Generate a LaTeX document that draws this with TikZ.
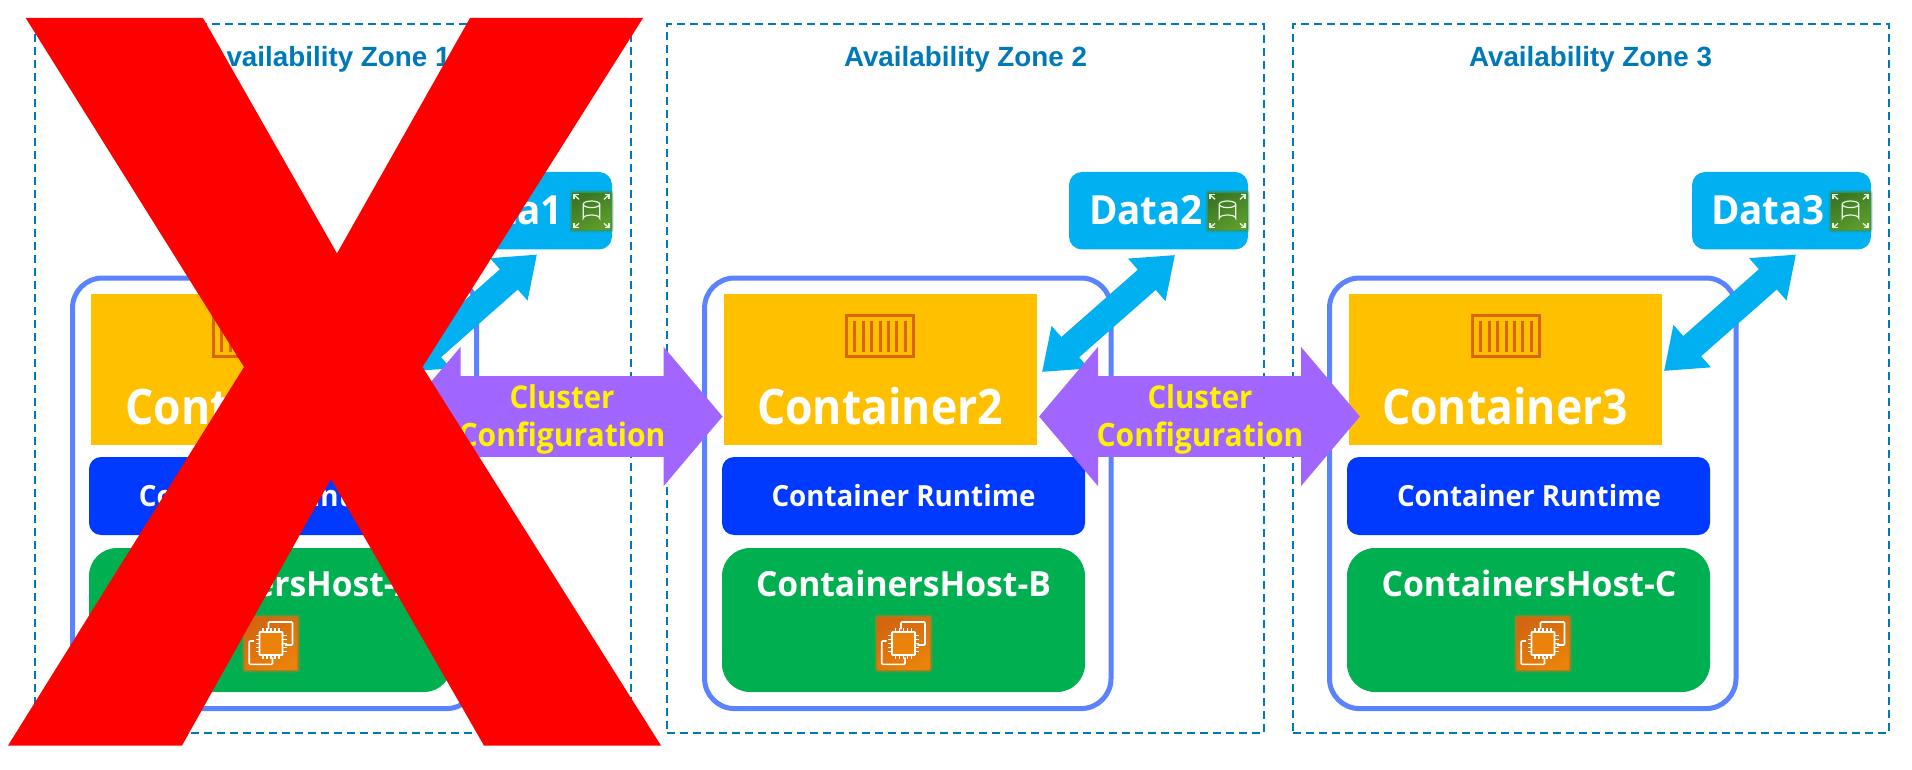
\documentclass[tikz,border=0pt]{standalone}
\usepackage{graphicx}
\usepackage{fontspec}
\setmainfont{Open Sans}
\newfontfamily\titlefont{Liberation Sans}
\usetikzlibrary{arrows.meta}
\definecolor{zoneblue}{HTML}{0079B8}
\definecolor{hostline}{HTML}{5B82FF}
\definecolor{contfill}{HTML}{FFC000}
\definecolor{runfill}{HTML}{0039FF}
\definecolor{hostfill}{HTML}{00B050}
\definecolor{datafill}{HTML}{00B0F0}
\definecolor{linkpurple}{HTML}{A066FF}
\definecolor{iconorange}{HTML}{D9660F}
\definecolor{ecA}{HTML}{D4660F}
\definecolor{ecB}{HTML}{EA820C}
\definecolor{dbA}{HTML}{3A7722}
\definecolor{dbB}{HTML}{5E9C2C}
\tikzset{
  zonebox/.style={draw=zoneblue,line width=1.8pt,dash pattern=on 8pt off 5pt},
  hostbox/.style={draw=hostline,line width=5pt,fill=white,rounded corners=30pt},
  contbox/.style={fill=contfill},
  runbox/.style={fill=runfill,rounded corners=12pt},
  greenbox/.style={fill=hostfill,rounded corners=28pt},
  databox/.style={fill=datafill,rounded corners=13pt},
  lbl/.style={anchor=base,inner sep=0pt,text=white,font=\fontsize{40}{44}\selectfont\bfseries},
  ttl/.style={anchor=base,inner sep=0pt,text=zoneblue,font=\fontsize{28}{32}\selectfont\titlefont\bfseries},
  yel/.style={anchor=base,inner sep=0pt,text=yellow,font=\fontsize{30}{32}\selectfont\bfseries},
  bluelink/.style={draw=datafill,line width=27pt,
    {Triangle[length=37.6pt,width=54pt]}-{Triangle[length=37.6pt,width=54pt]}},
  purplelink/.style={draw=linkpurple,line width=81pt,
    {Triangle[length=59pt,width=136pt]}-{Triangle[length=59pt,width=136pt]}},
  iconline/.style={draw=white,line width=1.6pt,rounded corners=1pt},
}
\newcommand{\fitw}[2]{\resizebox{#1pt}{!}{#2}}
\newcommand{\fitv}[3]{\scalebox{1}[#2]{\resizebox{#1pt}{!}{#3}}}
% rectangle node from its edges: name, style, left, top, right, bottom
\newcommand{\boxnode}[6]{%
  \node[#2,inner sep=0pt,outer sep=0pt,anchor=north west,
    minimum width=#5pt-#3pt,minimum height=#6pt-#4pt] (#1) at (#3,#4) {};}
\newcommand{\conticon}[2]{%
  \begin{scope}[shift={(#1,#2)}]
    \draw[iconorange,line width=3pt] (-33.5,-20.5) rectangle (33.5,20.5);
    \foreach \dx in {-25.2,-16.8,-8.4,0,8.4,16.8,25.2}
      \draw[iconorange,line width=3pt] (\dx,-15.5) -- (\dx,15.5);
  \end{scope}}
\newcommand{\glowbox}[6]{% x y halfw halfh colA colB
  \begin{scope}[shift={(#1,#2)}]
    \foreach \e/\o in {1.5/.25,0.5/.4,-0.5/.6}
      \fill[#5!50!#6,opacity=\o,rounded corners=2pt] (-#3-\e,-#4-\e) rectangle (#3+\e,#4+\e);
    \path[left color=#5,right color=#6,shading angle=30] (-#3+1.5,-#4+1.5) rectangle (#3-1.5,#4-1.5);
  \end{scope}}
\newcommand{\ectwo}[2]{%
  \glowbox{#1}{#2}{27.5}{27.5}{ecA}{ecB}
  \begin{scope}[shift={(#1,#2)}]
    \draw[iconline] (-2.5,-14.2) -- (-2.5,-21.5) -- (21.5,-21.5) -- (21.5,1.5) -- (13.8,1.5);
    \draw[iconline] (-16.8,-2.5) -- (-21.8,-2.5) -- (-21.8,20.8) -- (1.5,20.8) -- (1.5,13.8);
    \draw[iconline,fill=ecB,rounded corners=0.5pt] (-11.5,-11.5) rectangle (11.5,11.5);
    \foreach \p in {-8,-4,0,4,8}{
      \draw[white,line width=1.3pt] (\p,-11.5) -- (\p,-15.5);
      \draw[white,line width=1.3pt] (\p,11.5) -- (\p,15.5);
      \draw[white,line width=1.3pt] (-11.5,\p) -- (-15.5,\p);
      \draw[white,line width=1.3pt] (11.5,\p) -- (15.5,\p);
    }
  \end{scope}}
\newcommand{\dbicon}[2]{%
  \glowbox{#1}{#2}{20.5}{19.5}{dbA}{dbB}
  \begin{scope}[shift={(#1,#2)}]
    \draw[white!90!dbA,line width=1.2pt] (-8.3,-7) -- (-8.3,7) arc[start angle=180,end angle=360,x radius=8.3,y radius=3.3] -- (8.3,-7);
    \draw[white!90!dbA,line width=1.2pt] (0,-7) ellipse[x radius=8.3,y radius=3.3];
    \foreach \sx/\sy in {-1/-1,1/-1,-1/1,1/1}{
      \draw[white!90!dbA,line width=1.3pt] (\sx*12.5,\sy*12) -- (\sx*17.5,\sy*16.5);
      \draw[white!90!dbA,line width=1.3pt] (\sx*17.5,\sy*12) -- (\sx*17.5,\sy*16.5) -- (\sx*13,\sy*16.5);
    }
  \end{scope}}
\begin{document}
\begin{tikzpicture}[x=1pt,y=-1pt]
\useasboundingbox (0,0) rectangle (1912,770);
\fill[white] (0,0) rectangle (1912,770);

% availability zones
\boxnode{zone1}{zonebox}{35}{24}{631}{733}
\boxnode{zone2}{zonebox}{667}{24}{1264}{733}
\boxnode{zone3}{zonebox}{1293}{24}{1889}{733}
\node[ttl] (ztitle1) at (329,66.3) {\fitw{243}{Availability Zone 1}};
\node[ttl] (ztitle2) at (965.5,66.3) {\fitw{243}{Availability Zone 2}};
\node[ttl] (ztitle3) at (1590.5,66.3) {\fitw{243}{Availability Zone 3}};

% hosts
\boxnode{host1}{hostbox}{72.5}{278}{476.5}{708.6}
\boxnode{host2}{hostbox}{704.6}{278}{1111}{708.6}
\boxnode{host3}{hostbox}{1329.5}{278}{1736}{708.6}

% containers
\boxnode{cont1}{contbox}{91}{294}{404}{445}
\boxnode{cont2}{contbox}{724}{294}{1037}{445}
\boxnode{cont3}{contbox}{1349}{294}{1662}{445}
\conticon{247}{336}
\conticon{880}{336}
\conticon{1506}{336}
\node[lbl] (ctext1) at (248.5,424.8) {\fitv{246}{1.1}{Container1}};
\node[lbl] (ctext2) at (880,424.8) {\fitv{246}{1.1}{Container2}};
\node[lbl] (ctext3) at (1505,424.8) {\fitv{246}{1.1}{Container3}};

% runtimes
\boxnode{run1}{runbox}{89}{457}{452}{535}
\boxnode{run2}{runbox}{722}{457}{1085}{535}
\boxnode{run3}{runbox}{1347}{457}{1710}{535}
\node[lbl] (rtext1) at (271,506) {\fitv{264}{1.05}{Container Runtime}};
\node[lbl] (rtext2) at (903.5,506) {\fitv{264}{1.05}{Container Runtime}};
\node[lbl] (rtext3) at (1529,506) {\fitv{264}{1.05}{Container Runtime}};

% container hosts
\boxnode{green1}{greenbox}{89}{548}{452}{692}
\boxnode{green2}{greenbox}{722}{548}{1085}{692}
\boxnode{green3}{greenbox}{1347}{548}{1710}{692}
\node[lbl] (gtext1) at (270.5,596) {\fitv{295}{1.03}{ContainersHost-A}};
\node[lbl] (gtext2) at (903.5,596) {\fitv{295}{1.03}{ContainersHost-B}};
\node[lbl] (gtext3) at (1529,596) {\fitv{295}{1.03}{ContainersHost-C}};
\ectwo{271}{643.5}
\ectwo{903.5}{643.5}
\ectwo{1543}{643.5}

% data volumes
\boxnode{data1}{databox}{433}{172}{612}{249.5}
\boxnode{data2}{databox}{1069}{172}{1248}{249.5}
\boxnode{data3}{databox}{1692}{172}{1871}{249.5}
\node[lbl] (dtext1) at (506,225) {\fitv{114}{1.04}{Data1}};
\node[lbl] (dtext2) at (1146,225) {\fitv{114}{1.04}{Data2}};
\node[lbl] (dtext3) at (1768,225) {\fitv{114}{1.04}{Data3}};
\dbicon{591.5}{211.3}
\dbicon{1227.5}{211.3}
\dbicon{1850.5}{211.3}

% storage links
\coordinate (d1end) at (537,254.5);
\coordinate (c1end) at (404,372);
\coordinate (d2end) at (1175,255);
\coordinate (c2end) at (1042,372);
\coordinate (d3end) at (1796,254.5);
\coordinate (c3end) at (1664,371);
\draw[bluelink] (c1end) -- (d1end);
\draw[bluelink] (c2end) -- (d2end);
\draw[bluelink] (c3end) -- (d3end);

% cluster configuration links
\coordinate (l1a) at (401.6,416.5);
\coordinate (l1b) at (722.6,416.5);
\coordinate (l2a) at (1039,416.5);
\coordinate (l2b) at (1360,416.5);
\draw[purplelink] (l1a) -- (l1b);
\draw[purplelink] (l2a) -- (l2b);
\node[yel] (cl1a) at (562,408.6) {\fitv{105}{1.07}{Cluster}};
\node[yel] (cl1b) at (562,446) {\fitv{207}{1.07}{Configuration}};
\node[yel] (cl2a) at (1200,408.6) {\fitv{105}{1.07}{Cluster}};
\node[yel] (cl2b) at (1200,446) {\fitv{207}{1.07}{Configuration}};

% red cross
\fill[red] (25.7,18) -- (203,18) -- (337,253.4) -- (470,18) -- (643,18) -- (422.5,367)
  -- (661,745.6) -- (484,745.6) -- (331,479) -- (182,745.6) -- (8,745.6) -- (244,367) -- cycle;
\end{tikzpicture}
\end{document}
